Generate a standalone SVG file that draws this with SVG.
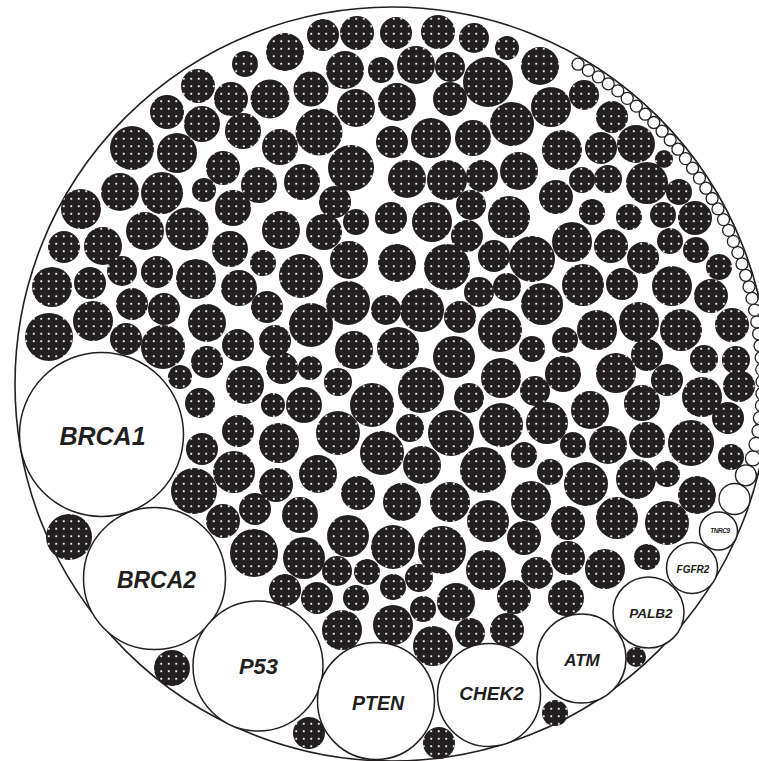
<svg xmlns="http://www.w3.org/2000/svg" width="759" height="761" viewBox="0 0 759 761">
<defs>
<pattern id="dots" patternUnits="userSpaceOnUse" x="0" y="0" width="7.5" height="7.5">
<rect width="7.5" height="7.5" fill="#231f20"/>
<rect x="2.85" y="2.85" width="1.8" height="1.8" fill="#ffffff"/>
</pattern>
</defs>
<style>
.b{fill:url(#dots);stroke:none}
.w{fill:#ffffff;stroke:#231f20;stroke-width:1.5}
.c{fill:#ffffff;stroke:#231f20;stroke-width:1.3}
.o{fill:#ffffff;stroke:#231f20;stroke-width:1.6}
.t{font-family:"Liberation Sans",Arial,Helvetica,sans-serif;font-weight:bold;font-style:italic;fill:#231f20;text-anchor:middle}
</style>
<rect width="759" height="761" fill="#ffffff"/>
<g id="outer"><circle class="o" cx="392" cy="384" r="377"/></g>
<g id="black-circles">
<circle class="b" cx="323" cy="35" r="16"/>
<circle class="b" cx="357" cy="33" r="17"/>
<circle class="b" cx="285" cy="52" r="19"/>
<circle class="b" cx="245" cy="64" r="13"/>
<circle class="b" cx="345" cy="70" r="19"/>
<circle class="b" cx="311" cy="89" r="17.5"/>
<circle class="b" cx="198" cy="86" r="17"/>
<circle class="b" cx="231" cy="99" r="17"/>
<circle class="b" cx="270" cy="99" r="19.5"/>
<circle class="b" cx="356" cy="108" r="19"/>
<circle class="b" cx="167" cy="112" r="17"/>
<circle class="b" cx="202" cy="124" r="18"/>
<circle class="b" cx="243" cy="131" r="18"/>
<circle class="b" cx="280" cy="147" r="18"/>
<circle class="b" cx="319" cy="132" r="23.5"/>
<circle class="b" cx="132" cy="148" r="22"/>
<circle class="b" cx="177" cy="153" r="20"/>
<circle class="b" cx="223" cy="168" r="17"/>
<circle class="b" cx="351" cy="168" r="23"/>
<circle class="b" cx="302" cy="182" r="18"/>
<circle class="b" cx="259" cy="185" r="18"/>
<circle class="b" cx="204" cy="190" r="12"/>
<circle class="b" cx="335" cy="202" r="16"/>
<circle class="b" cx="120" cy="192" r="19"/>
<circle class="b" cx="162" cy="193" r="21"/>
<circle class="b" cx="81" cy="209" r="20"/>
<circle class="b" cx="233" cy="208" r="18"/>
<circle class="b" cx="356" cy="222" r="13"/>
<circle class="b" cx="145" cy="231" r="19"/>
<circle class="b" cx="187" cy="229" r="21.5"/>
<circle class="b" cx="281" cy="230" r="19"/>
<circle class="b" cx="324" cy="232" r="18"/>
<circle class="b" cx="230" cy="249" r="18"/>
<circle class="b" cx="64" cy="247" r="16"/>
<circle class="b" cx="103" cy="246" r="19"/>
<circle class="b" cx="349" cy="260" r="19"/>
<circle class="b" cx="263" cy="263" r="13"/>
<circle class="b" cx="122" cy="271" r="15"/>
<circle class="b" cx="157" cy="272" r="16"/>
<circle class="b" cx="196" cy="279" r="20"/>
<circle class="b" cx="301" cy="276" r="22"/>
<circle class="b" cx="52" cy="287" r="20"/>
<circle class="b" cx="90" cy="283" r="16"/>
<circle class="b" cx="239" cy="288" r="18"/>
<circle class="b" cx="267" cy="307" r="16"/>
<circle class="b" cx="348" cy="303" r="22"/>
<circle class="b" cx="132" cy="304" r="16"/>
<circle class="b" cx="164" cy="309" r="16"/>
<circle class="b" cx="93" cy="321" r="20"/>
<circle class="b" cx="207" cy="323" r="19"/>
<circle class="b" cx="311" cy="325" r="22"/>
<circle class="b" cx="49" cy="337" r="24"/>
<circle class="b" cx="126" cy="339" r="16"/>
<circle class="b" cx="163" cy="347" r="22"/>
<circle class="b" cx="238" cy="345" r="16"/>
<circle class="b" cx="275" cy="341" r="16"/>
<circle class="b" cx="354" cy="350" r="19"/>
<circle class="b" cx="207" cy="362" r="16"/>
<circle class="b" cx="282" cy="368" r="16"/>
<circle class="b" cx="310" cy="368" r="12"/>
<circle class="b" cx="338" cy="382" r="14"/>
<circle class="b" cx="180" cy="377" r="12"/>
<circle class="b" cx="245" cy="385" r="19"/>
<circle class="b" cx="396" cy="33" r="16"/>
<circle class="b" cx="438" cy="32" r="17"/>
<circle class="b" cx="474" cy="38" r="15"/>
<circle class="b" cx="507" cy="48" r="12"/>
<circle class="b" cx="416" cy="65" r="19"/>
<circle class="b" cx="450" cy="67" r="15"/>
<circle class="b" cx="488" cy="82" r="25"/>
<circle class="b" cx="540" cy="66" r="19"/>
<circle class="b" cx="381" cy="70" r="13"/>
<circle class="b" cx="397" cy="102" r="19"/>
<circle class="b" cx="450" cy="99" r="17"/>
<circle class="b" cx="551" cy="107" r="20"/>
<circle class="b" cx="584" cy="95" r="15"/>
<circle class="b" cx="612" cy="117" r="16"/>
<circle class="b" cx="512" cy="124" r="22"/>
<circle class="b" cx="392" cy="142" r="16"/>
<circle class="b" cx="431" cy="138" r="20"/>
<circle class="b" cx="473" cy="138" r="18"/>
<circle class="b" cx="562" cy="150" r="20"/>
<circle class="b" cx="601" cy="148" r="16"/>
<circle class="b" cx="636" cy="144" r="19"/>
<circle class="b" cx="664" cy="159" r="9"/>
<circle class="b" cx="407" cy="179" r="19"/>
<circle class="b" cx="447" cy="180" r="20"/>
<circle class="b" cx="482" cy="176" r="16"/>
<circle class="b" cx="519" cy="171" r="19"/>
<circle class="b" cx="582" cy="180" r="13"/>
<circle class="b" cx="608" cy="179" r="14"/>
<circle class="b" cx="647" cy="183" r="21"/>
<circle class="b" cx="679" cy="192" r="13"/>
<circle class="b" cx="556" cy="197" r="17"/>
<circle class="b" cx="471" cy="205" r="15"/>
<circle class="b" cx="509" cy="217" r="21"/>
<circle class="b" cx="391" cy="218" r="16"/>
<circle class="b" cx="432" cy="222" r="20"/>
<circle class="b" cx="592" cy="212" r="13"/>
<circle class="b" cx="629" cy="217" r="13"/>
<circle class="b" cx="663" cy="215" r="13"/>
<circle class="b" cx="695" cy="218" r="17"/>
<circle class="b" cx="467" cy="236" r="16"/>
<circle class="b" cx="572" cy="242" r="20"/>
<circle class="b" cx="611" cy="246" r="17"/>
<circle class="b" cx="670" cy="241" r="13"/>
<circle class="b" cx="696" cy="250" r="13"/>
<circle class="b" cx="643" cy="258" r="16"/>
<circle class="b" cx="397" cy="263" r="19"/>
<circle class="b" cx="447" cy="267" r="23"/>
<circle class="b" cx="494" cy="256" r="16"/>
<circle class="b" cx="532" cy="259" r="23"/>
<circle class="b" cx="719" cy="267" r="13"/>
<circle class="b" cx="479" cy="292" r="15"/>
<circle class="b" cx="507" cy="287" r="14"/>
<circle class="b" cx="583" cy="285" r="21"/>
<circle class="b" cx="622" cy="284" r="16"/>
<circle class="b" cx="672" cy="286" r="20"/>
<circle class="b" cx="711" cy="296" r="17"/>
<circle class="b" cx="386" cy="310" r="15"/>
<circle class="b" cx="422" cy="310" r="22"/>
<circle class="b" cx="460" cy="317" r="16"/>
<circle class="b" cx="542" cy="304" r="21"/>
<circle class="b" cx="639" cy="322" r="20"/>
<circle class="b" cx="597" cy="330" r="20"/>
<circle class="b" cx="681" cy="330" r="21"/>
<circle class="b" cx="732" cy="325" r="17"/>
<circle class="b" cx="500" cy="330" r="22"/>
<circle class="b" cx="565" cy="340" r="13"/>
<circle class="b" cx="532" cy="349" r="13"/>
<circle class="b" cx="398" cy="348" r="21"/>
<circle class="b" cx="454" cy="357" r="21"/>
<circle class="b" cx="647" cy="355" r="16"/>
<circle class="b" cx="704" cy="359" r="14"/>
<circle class="b" cx="736" cy="360" r="14"/>
<circle class="b" cx="421" cy="390" r="23"/>
<circle class="b" cx="501" cy="378" r="20"/>
<circle class="b" cx="535" cy="391" r="15"/>
<circle class="b" cx="563" cy="374" r="18"/>
<circle class="b" cx="616" cy="373" r="20"/>
<circle class="b" cx="667" cy="380" r="16"/>
<circle class="b" cx="739" cy="386" r="16"/>
<circle class="b" cx="200" cy="403" r="15"/>
<circle class="b" cx="273" cy="405" r="12"/>
<circle class="b" cx="304" cy="405" r="18"/>
<circle class="b" cx="372" cy="405" r="22"/>
<circle class="b" cx="238" cy="431" r="16"/>
<circle class="b" cx="202" cy="449" r="16"/>
<circle class="b" cx="279" cy="443" r="20"/>
<circle class="b" cx="338" cy="433" r="22"/>
<circle class="b" cx="382" cy="453" r="22"/>
<circle class="b" cx="234" cy="472" r="21"/>
<circle class="b" cx="318" cy="474" r="19"/>
<circle class="b" cx="194" cy="491" r="23"/>
<circle class="b" cx="276" cy="485" r="17"/>
<circle class="b" cx="358" cy="493" r="17"/>
<circle class="b" cx="223" cy="521" r="17"/>
<circle class="b" cx="255" cy="509" r="16"/>
<circle class="b" cx="300" cy="515" r="18"/>
<circle class="b" cx="348" cy="536" r="21"/>
<circle class="b" cx="69" cy="537" r="23"/>
<circle class="b" cx="254" cy="553" r="24"/>
<circle class="b" cx="304" cy="558" r="21"/>
<circle class="b" cx="337" cy="571" r="15"/>
<circle class="b" cx="367" cy="572" r="13"/>
<circle class="b" cx="285" cy="590" r="16"/>
<circle class="b" cx="317" cy="598" r="16"/>
<circle class="b" cx="356" cy="598" r="13"/>
<circle class="b" cx="342" cy="630" r="20"/>
<circle class="b" cx="172" cy="668" r="18"/>
<circle class="b" cx="309" cy="733" r="16"/>
<circle class="b" cx="469" cy="398" r="15"/>
<circle class="b" cx="590" cy="410" r="19"/>
<circle class="b" cx="642" cy="403" r="18"/>
<circle class="b" cx="702" cy="397" r="20"/>
<circle class="b" cx="728" cy="418" r="16"/>
<circle class="b" cx="410" cy="428" r="14"/>
<circle class="b" cx="451" cy="433" r="23"/>
<circle class="b" cx="501" cy="425" r="22"/>
<circle class="b" cx="547" cy="423" r="21"/>
<circle class="b" cx="573" cy="445" r="13"/>
<circle class="b" cx="608" cy="445" r="19"/>
<circle class="b" cx="647" cy="440" r="18"/>
<circle class="b" cx="691" cy="443" r="23"/>
<circle class="b" cx="422" cy="465" r="19"/>
<circle class="b" cx="483" cy="470" r="23"/>
<circle class="b" cx="524" cy="455" r="13"/>
<circle class="b" cx="550" cy="472" r="13"/>
<circle class="b" cx="586" cy="484" r="22"/>
<circle class="b" cx="636" cy="479" r="20"/>
<circle class="b" cx="667" cy="474" r="13"/>
<circle class="b" cx="731" cy="457" r="13"/>
<circle class="b" cx="697" cy="495" r="19"/>
<circle class="b" cx="402" cy="502" r="19"/>
<circle class="b" cx="450" cy="502" r="20"/>
<circle class="b" cx="488" cy="521" r="21"/>
<circle class="b" cx="531" cy="501" r="20"/>
<circle class="b" cx="568" cy="523" r="17"/>
<circle class="b" cx="617" cy="518" r="21"/>
<circle class="b" cx="667" cy="523" r="22"/>
<circle class="b" cx="393" cy="547" r="22"/>
<circle class="b" cx="442" cy="550" r="24"/>
<circle class="b" cx="524" cy="538" r="17"/>
<circle class="b" cx="486" cy="570" r="20"/>
<circle class="b" cx="537" cy="573" r="16"/>
<circle class="b" cx="568" cy="558" r="17"/>
<circle class="b" cx="605" cy="569" r="20"/>
<circle class="b" cx="647" cy="557" r="13"/>
<circle class="b" cx="393" cy="587" r="13"/>
<circle class="b" cx="419" cy="578" r="14"/>
<circle class="b" cx="456" cy="602" r="19"/>
<circle class="b" cx="514" cy="597" r="17"/>
<circle class="b" cx="423" cy="609" r="13"/>
<circle class="b" cx="566" cy="598" r="18"/>
<circle class="b" cx="393" cy="625" r="20"/>
<circle class="b" cx="470" cy="633" r="15"/>
<circle class="b" cx="507" cy="630" r="17"/>
<circle class="b" cx="433" cy="646" r="20"/>
<circle class="b" cx="636" cy="657" r="10"/>
<circle class="b" cx="555" cy="713" r="13"/>
<circle class="b" cx="439" cy="743" r="16"/>
</g>
<g id="small-white-chain">
<circle class="c" cx="734.5" cy="499" r="15.5"/>
<circle class="c" cx="745.9" cy="475.3" r="10.5"/>
<circle class="c" cx="752.9" cy="458.4" r="7.5"/>
<circle class="c" cx="756" cy="444.3" r="7"/>
<circle class="c" cx="758.5" cy="431" r="6.5"/>
<circle class="c" cx="759.9" cy="418.1" r="6.5"/>
<circle class="c" cx="761.4" cy="405.6" r="6"/>
<circle class="c" cx="761.9" cy="393.6" r="6"/>
<circle class="c" cx="762" cy="381.6" r="6"/>
<circle class="c" cx="761.7" cy="369.6" r="6"/>
<circle class="c" cx="761.1" cy="357.7" r="6"/>
<circle class="c" cx="760" cy="345.7" r="6"/>
<circle class="c" cx="758.6" cy="333.8" r="6"/>
<circle class="c" cx="756.8" cy="321.9" r="6"/>
<circle class="c" cx="754.6" cy="310.1" r="6"/>
<circle class="c" cx="752" cy="298.4" r="6"/>
<circle class="c" cx="749" cy="286.8" r="6"/>
<circle class="c" cx="745.7" cy="275.3" r="6"/>
<circle class="c" cx="742" cy="263.9" r="6"/>
<circle class="c" cx="737.9" cy="252.6" r="6"/>
<circle class="c" cx="733.4" cy="241.4" r="6"/>
<circle class="c" cx="728.6" cy="230.4" r="6"/>
<circle class="c" cx="723.5" cy="219.6" r="6"/>
<circle class="c" cx="718" cy="208.9" r="6"/>
<circle class="c" cx="712.1" cy="198.5" r="6"/>
<circle class="c" cx="705.9" cy="188.2" r="6"/>
<circle class="c" cx="699.4" cy="178.1" r="6"/>
<circle class="c" cx="692.6" cy="168.2" r="6"/>
<circle class="c" cx="685.4" cy="158.6" r="6"/>
<circle class="c" cx="677.9" cy="149.2" r="6"/>
<circle class="c" cx="670.2" cy="140" r="6"/>
<circle class="c" cx="662.1" cy="131.2" r="6"/>
<circle class="c" cx="653.8" cy="122.5" r="6"/>
<circle class="c" cx="645.2" cy="114.2" r="6"/>
<circle class="c" cx="636.3" cy="106.1" r="6"/>
<circle class="c" cx="627.2" cy="98.4" r="6"/>
<circle class="c" cx="617.8" cy="90.9" r="6"/>
<circle class="c" cx="608.2" cy="83.8" r="6"/>
<circle class="c" cx="598.4" cy="76.9" r="6"/>
<circle class="c" cx="588.3" cy="70.4" r="6"/>
<circle class="c" cx="578" cy="64.2" r="6"/>
</g>
<g id="BRCA1"><circle class="w" cx="101.5" cy="434.5" r="82"/><text class="t" x="102.5" y="445" font-size="25">BRCA1</text></g>
<g id="BRCA2"><circle class="w" cx="154.5" cy="578.5" r="71"/><text class="t" x="156.5" y="588" font-size="23">BRCA2</text></g>
<g id="P53"><circle class="w" cx="258" cy="666" r="65"/><text class="t" x="258.5" y="673.5" font-size="22">P53</text></g>
<g id="PTEN"><circle class="w" cx="376" cy="701" r="58.5"/><text class="t" x="378" y="710" font-size="19.5">PTEN</text></g>
<g id="CHEK2"><circle class="w" cx="489" cy="695" r="51.5"/><text class="t" x="491.5" y="700" font-size="19">CHEK2</text></g>
<g id="ATM"><circle class="w" cx="581.5" cy="658.5" r="44.5"/><text class="t" x="582" y="666" font-size="17">ATM</text></g>
<g id="PALB2"><circle class="w" cx="648.5" cy="612.5" r="35.5"/><text class="t" x="651" y="618" font-size="13.5">PALB2</text></g>
<g id="FGFR2"><circle class="w" cx="692" cy="568" r="25.5"/><text class="t" x="693" y="572.5" font-size="10">FGFR2</text></g>
<g id="TNRC9"><circle class="w" cx="718.5" cy="531" r="19"/><text class="t" x="720" y="533.3" font-size="6.5" letter-spacing="-0.4">TNRC9</text></g>
</svg>
